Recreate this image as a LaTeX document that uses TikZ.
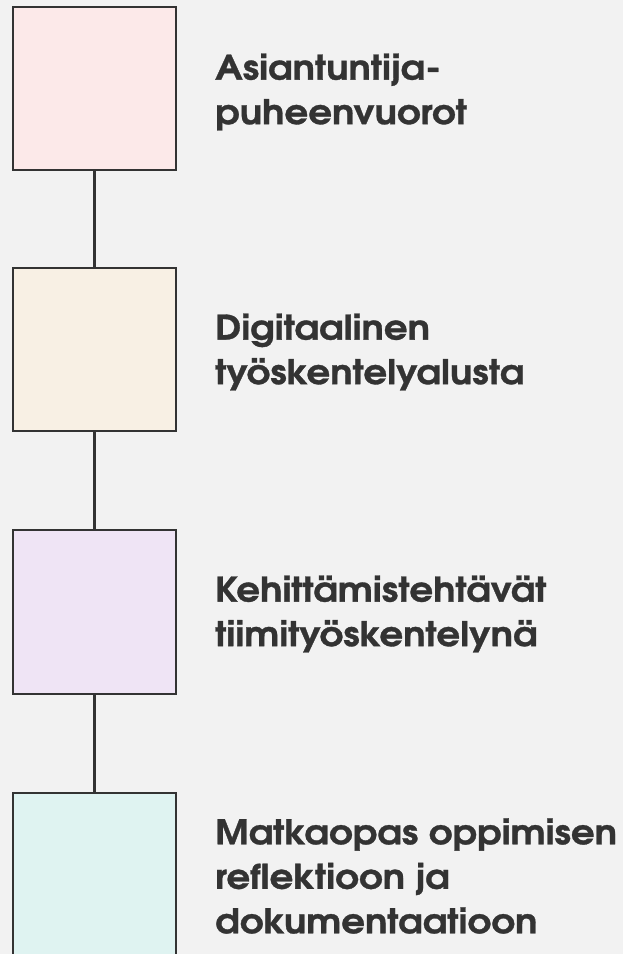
\documentclass[tikz,border=0pt]{standalone}
\usepackage{fontspec}
\setmainfont{TeX Gyre Adventor}[FakeStretch=1.095, BoldFeatures={FakeBold=0.9}]
\definecolor{bg}{HTML}{F2F2F2}
\definecolor{ink}{HTML}{333333}
\definecolor{cA}{HTML}{FCE9E9}
\definecolor{cB}{HTML}{F8F0E4}
\definecolor{cC}{HTML}{EFE4F5}
\definecolor{cD}{HTML}{DFF3F1}
\tikzset{
  stepbox/.style={draw=ink, line width=2.3pt, rectangle, inner sep=0pt, outer sep=0pt,
    minimum width=163.3pt, minimum height=163.6pt},
  label/.style={anchor=west, inner sep=0pt, align=left, text=ink,
    font=\fontsize{34}{44.5}\selectfont\bfseries},
  link/.style={draw=ink, line width=2.3pt}
}
\begin{document}
\begin{tikzpicture}[x=1pt,y=-1pt]
\fill[bg] (0,0) rectangle (623,954);
\useasboundingbox (0,0) rectangle (623,954);
\begin{scope}
\clip (0,0) rectangle (623,954);
\node[stepbox, fill=cA] (b1) at (94.35,88.5) {};
\node[stepbox, fill=cB] (b2) at (94.35,349.5) {};
\node[stepbox, fill=cC] (b3) at (94.35,612) {};
\node[stepbox, fill=cD] (b4) at (94.35,874.5) {};
\draw[link] (b1.south) -- (b2.north);
\draw[link] (b2.south) -- (b3.north);
\draw[link] (b3.south) -- (b4.north);
\end{scope}
\node[label] (t1) at (215,92) {Asiantuntija-\\puheenvuorot};
\node[label] (t2) at (215,352) {Digitaalinen\\työskentelyalusta};
\node[label] (t3) at (215,614) {Kehittämistehtävät\\tiimityöskentelynä};
\node[label] (t4) at (215,876) {Matkaopas oppimisen\\reflektioon ja\\dokumentaatioon};
\end{tikzpicture}
\end{document}
